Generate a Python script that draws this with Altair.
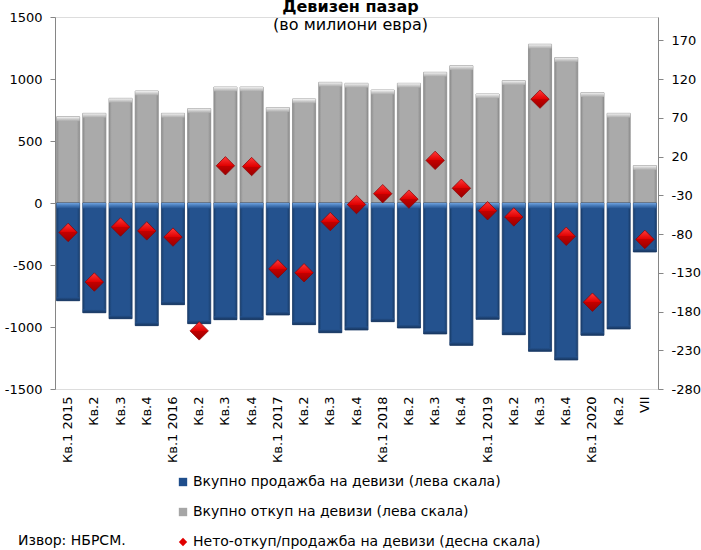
import json
import altair as alt
import pandas as pd

# Quarterly FX market turnover, millions of euro
x_labels = ["Кв.1 2015", "Кв.2", "Кв.3", "Кв.4",
            "Кв.1 2016", "Кв.2", "Кв.3", "Кв.4",
            "Кв.1 2017", "Кв.2", "Кв.3", "Кв.4",
            "Кв.1 2018", "Кв.2", "Кв.3", "Кв.4",
            "Кв.1 2019", "Кв.2", "Кв.3", "Кв.4",
            "Кв.1 2020", "Кв.2", "VII"]

# total purchases (left scale)
purchases = [695, 723, 844, 903, 723, 761, 935, 935, 769, 839, 973, 965,
             911, 965, 1054, 1107, 879, 986, 1280, 1172, 890, 723, 301]
# total sales (left scale)
sales = [-788, -885, -933, -989, -820, -973, -941, -941, -903, -981, -1046, -1024,
         -957, -1008, -1056, -1148, -938, -1062, -1196, -1266, -1067, -1016, -395]
# net purchase/sale (right scale); the Q2 2020 value falls below the axis range
net = [-78, -142, -71, -76, -84, -205, 8, 7, -125, -130, -64, -42,
       -28, -35, 15, -21, -50, -58, 94, -83, -168, None, -87]

series_names = ["Вкупно продажба на девизи (лева скала)",
                "Вкупно откуп на девизи (лева скала)",
                "Нето-откуп/продажба на девизи (десна скала)"]
series_colors = ["#1f4e8c", "#a6a6a6", "#e00000"]
series_shapes = ["square", "square", "diamond"]

source_note = "Извор: НБРСМ."

left_ticks = [-1500, -1000, -500, 0, 500, 1000, 1500]
right_ticks = [-280, -230, -180, -130, -80, -30, 20, 70, 120, 170]

FONT = "DejaVu Sans"

df = pd.DataFrame({"idx": list(range(len(x_labels))),
                   "buy": purchases, "sell": sales, "net": net})

label_expr = json.dumps(x_labels, ensure_ascii=False) + "[datum.value]"

x_enc = alt.X("idx:O",
              scale=alt.Scale(paddingInner=0.12, paddingOuter=0.06),
              axis=alt.Axis(title=None, labelAngle=-90, labelExpr=label_expr,
                            domain=False, ticks=False, labelPadding=7,
                            labelFontSize=13, labelFont=FONT, labelColor="#000000"))

left_scale = alt.Scale(domain=[-1500, 1500], nice=False, zero=False)
left_axis = alt.Axis(title=None, values=left_ticks, grid=False, domainColor="#868686",
                     tickColor="#868686", tickSize=5, labelPadding=8, labelFontSize=13,
                     labelFont=FONT, labelColor="#000000",
                     labelExpr="toString(datum.value)")

base = alt.Chart(df)

gray_fill = alt.LinearGradient(gradient="linear", x1=0, x2=1, y1=0, y2=0, stops=[
    alt.GradientStop(offset=0, color="#8e8e8e"),
    alt.GradientStop(offset=0.12, color="#aaaaaa"),
    alt.GradientStop(offset=0.88, color="#aaaaaa"),
    alt.GradientStop(offset=1, color="#8e8e8e")])
gray_top = alt.LinearGradient(gradient="linear", x1=0, x2=0, y1=0, y2=1, stops=[
    alt.GradientStop(offset=0, color="#f4f4f4"),
    alt.GradientStop(offset=0.45, color="#d0d0d0"),
    alt.GradientStop(offset=1, color="#aaaaaa")])
blue_fill = alt.LinearGradient(gradient="linear", x1=0, x2=1, y1=0, y2=0, stops=[
    alt.GradientStop(offset=0, color="#1a406f"),
    alt.GradientStop(offset=0.12, color="#24528e"),
    alt.GradientStop(offset=0.88, color="#24528e"),
    alt.GradientStop(offset=1, color="#1a406f")])
blue_top = alt.LinearGradient(gradient="linear", x1=0, x2=0, y1=0, y2=1, stops=[
    alt.GradientStop(offset=0, color="#6fa2de"),
    alt.GradientStop(offset=0.5, color="#4477b6"),
    alt.GradientStop(offset=1, color="#24528e")])
blue_bottom = alt.LinearGradient(gradient="linear", x1=0, x2=0, y1=0, y2=1, stops=[
    alt.GradientStop(offset=0, color="#24528e"),
    alt.GradientStop(offset=1, color="#17355d")])
red_fill = alt.LinearGradient(gradient="linear", x1=0, x2=0, y1=0, y2=1, stops=[
    alt.GradientStop(offset=0, color="#ff3a3a"),
    alt.GradientStop(offset=0.5, color="#e00000"),
    alt.GradientStop(offset=0.5, color="#c40000"),
    alt.GradientStop(offset=1, color="#9a0000")])

# purchases: grey bars above zero
buy_bars = base.mark_bar(fill=gray_fill, stroke="#8a8a8a", strokeWidth=0.8).encode(
    x=x_enc, y=alt.Y("buy:Q", scale=left_scale, axis=left_axis), y2=alt.Y2(datum=0))
buy_bevel = base.transform_calculate(bevel="datum.buy - 35").mark_bar(fill=gray_top).encode(
    x=x_enc, y="buy:Q", y2="bevel:Q")

# sales: blue bars below zero
sell_bars = base.mark_bar(fill=blue_fill, stroke="#1a3a66", strokeWidth=0.8).encode(
    x=x_enc, y="sell:Q", y2=alt.Y2(datum=0))
sell_bevel = base.transform_calculate(z="0", bevel="-45").mark_bar(fill=blue_top).encode(
    x=x_enc, y="z:Q", y2="bevel:Q")
sell_base = base.transform_calculate(edge="datum.sell + 28").mark_bar(fill=blue_bottom).encode(
    x=x_enc, y="edge:Q", y2="sell:Q")

# legend entries for all three series
legend_layer = alt.Chart(pd.DataFrame({"series": series_names, "v": [0, 0, 0]})).transform_filter(
    "false").mark_point(filled=True, opacity=1).encode(
    x=alt.value(0), y="v:Q",
    color=alt.Color("series:N", scale=alt.Scale(domain=series_names, range=series_colors),
                    legend=alt.Legend(title=None, orient="none", legendX=121, legendY=458,
                                      direction="vertical", rowPadding=16, symbolSize=70,
                                      labelFont=FONT, labelFontSize=14, labelColor="#000000",
                                      labelLimit=0, labelOffset=3, symbolStrokeWidth=0)),
    shape=alt.Shape("series:N", scale=alt.Scale(domain=series_names, range=series_shapes),
                    legend=alt.Legend(title=None)))

note = alt.Chart(pd.DataFrame({"t": [source_note]})).mark_text(
    align="left", baseline="middle", font=FONT, fontSize=14, color="#000000").encode(
    x=alt.value(-37), y=alt.value(524), text="t:N")

left_group = alt.layer(buy_bars, buy_bevel, sell_bars, sell_bevel, sell_base, legend_layer, note)

# net purchase/sale: red diamonds on the right scale
net_points = base.transform_filter("isValid(datum.net)").mark_point(
    shape="diamond", filled=True, fill=red_fill, stroke="#8a0000", strokeWidth=0.7,
    size=340, opacity=1).encode(
    x=x_enc,
    y=alt.Y("net:Q", scale=alt.Scale(domain=[-280, 200], nice=False, zero=False),
            axis=alt.Axis(title=None, orient="right", values=right_ticks, grid=False,
                          domainColor="#868686", tickColor="#868686", tickSize=5,
                          labelPadding=8, labelFontSize=13, labelFont=FONT,
                          labelColor="#000000", labelExpr="toString(datum.value)")))

chart = alt.layer(left_group, net_points).resolve_scale(y="independent").properties(
    width=603, height=372,
    autosize=alt.AutoSizeParams(type="none"),
    padding={"left": 55, "top": 17, "right": 43, "bottom": 161},
    title=alt.TitleParams(text="Девизен пазар", subtitle="(во милиони евра)",
                          font=FONT, fontSize=16, fontWeight="bold", color="#000000",
                          subtitleFont=FONT, subtitleFontSize=16, subtitleColor="#000000",
                          subtitlePadding=2, anchor="middle", dx=-6, offset=-22),
).configure_view(stroke=None).configure(background="white")

chart.save("out.html", embed_options={"renderer": "svg", "actions": False})
